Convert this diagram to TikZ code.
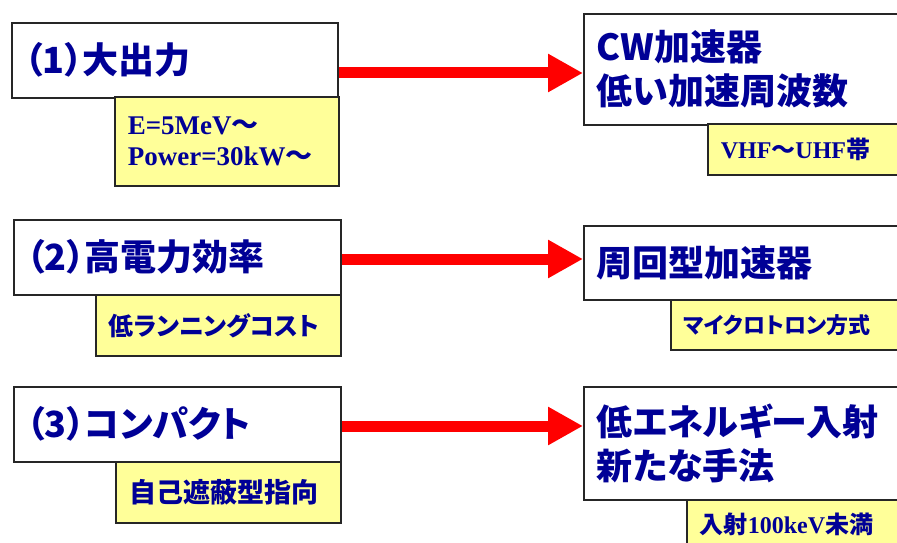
\documentclass[tikz,border=0pt]{standalone}
\usepackage{fontspec}
\setmainfont{Liberation Serif}
\newfontfamily\jp{Noto Sans CJK JP}[RawFeature=+palt]
\usetikzlibrary{arrows.meta}
\definecolor{navy}{RGB}{0,0,150}
\definecolor{pale}{RGB}{255,255,153}

\begin{document}
\begin{tikzpicture}[x=1pt,y=-1pt,
    titlebox/.style={draw=black!85,line width=1.6pt,fill=white,anchor=north west,
      inner xsep=13pt,inner ysep=0pt,align=left,text=navy,
      font=\jp\bfseries\fontsize{36}{44}\selectfont},
    notebox/.style={draw=black!85,line width=1.6pt,fill=pale,anchor=north west,
      inner xsep=13pt,inner ysep=0pt,align=left,text=navy},
    bigarrow/.style={red,line width=11pt,-{Triangle[length=35pt,width=36pt]}}]
  \useasboundingbox (0,0) rectangle (897,543);
  \clip (0,0) rectangle (897,543);

  % left column: aims
  \node[titlebox,text width=300pt,minimum height=75pt] (l1) at (11,22) {（1）大出力};
  \node[notebox,text width=198pt,minimum height=89pt,
    font=\bfseries\fontsize{27}{31.5}\selectfont] (n1) at (114,96) {E=5MeV{\jp〜}\\Power=30kW{\jp〜}};
  \node[titlebox,text width=301pt,minimum height=75pt] (l2) at (13,219) {（2）高電力効率};
  \node[notebox,text width=219pt,minimum height=61pt,
    font=\jp\bfseries\fontsize{25}{30}\selectfont] (n2) at (95,294) {低ランニングコスト};
  \node[titlebox,text width=301pt,minimum height=75pt] (l3) at (13,386) {（3）コンパクト};
  \node[notebox,text width=197pt,minimum height=61pt,inner xsep=14pt,
    font=\jp\bfseries\fontsize{27}{30}\selectfont] (n3) at (115,461) {自己遮蔽型指向};

  % right column: means
  \node[titlebox,text width=304pt,minimum height=111pt] (r1) at (583,13) {CW加速器\\低い加速周波数};
  \node[notebox,text width=184pt,minimum height=51pt,
    font=\bfseries\fontsize{24}{28}\selectfont] (m1) at (707,123) {VHF{\jp〜}UHF{\jp 帯}};
  \node[titlebox,text width=304pt,minimum height=74pt] (r2) at (583,225) {周回型加速器};
  \node[notebox,text width=214pt,minimum height=50pt,
    font=\jp\bfseries\fontsize{22}{27}\selectfont] (m2) at (670,299) {マイクロトロン方式};
  \node[titlebox,text width=304pt,minimum height=113pt] (r3) at (583,386) {低エネルギー入射\\新たな手法};
  \node[notebox,text width=204pt,minimum height=50pt,
    font=\bfseries\fontsize{24}{28}\selectfont] (m3) at (686,499) {{\jp 入射}100keV{\jp 未満}};

  % arrows
  \draw[bigarrow] (l1.east |- 0,73) -- (r1.west |- 0,73);
  \draw[bigarrow] (l2.east |- 0,259) -- (r2.west |- 0,259);
  \draw[bigarrow] (l3.east |- 0,426) -- (r3.west |- 0,426);
\end{tikzpicture}
\end{document}
